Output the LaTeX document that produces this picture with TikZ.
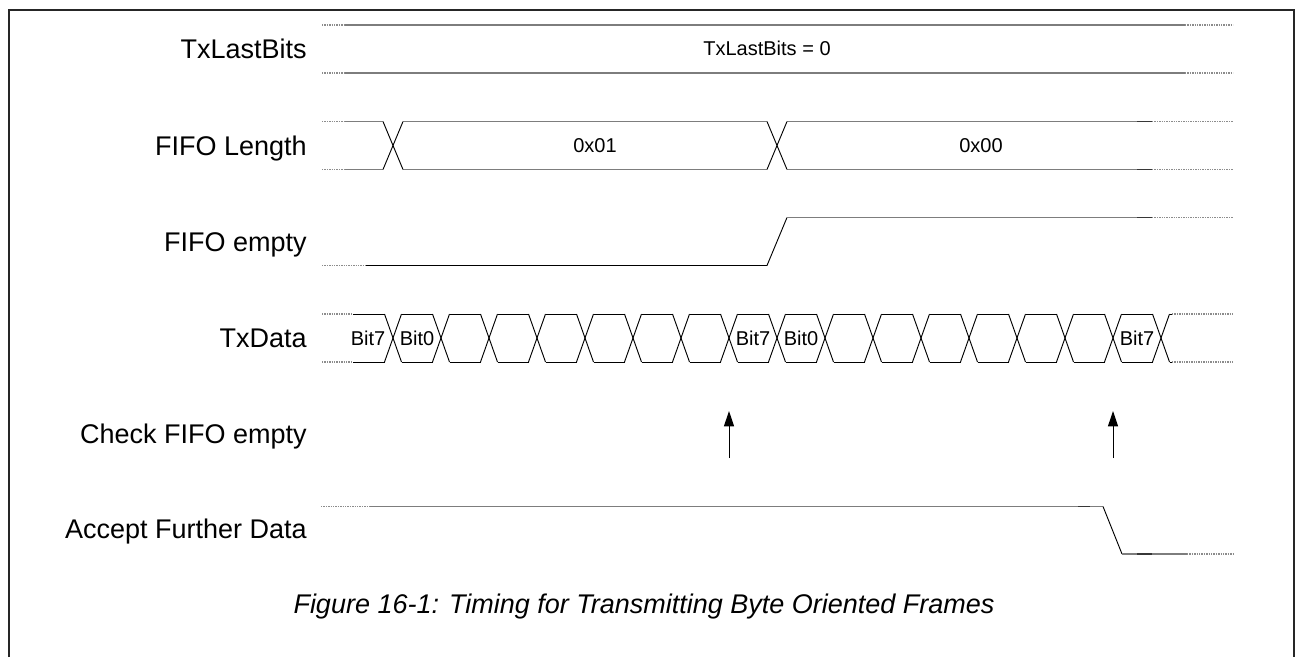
\documentclass[tikz,border=0pt]{standalone}
\usepackage{fontspec}
\setmainfont{Liberation Sans}
\usetikzlibrary{arrows.meta}
\definecolor{siggray}{RGB}{125,125,125}
\definecolor{dotgray}{RGB}{140,140,140}
\definecolor{markgray}{RGB}{55,55,55}
\begin{document}
\begin{tikzpicture}[x=0.75pt,y=-0.75pt,
  sig/.style={siggray,line width=1.1pt},
  wire/.style={black,line width=0.7pt},
  dotsig/.style={dotgray,line width=0.9pt,dash pattern=on 1pt off 0.8pt},
  darkseg/.style={markgray,line width=1.3pt},
  lbl/.style={anchor=base east,inner sep=0pt,font=\fontsize{20.25pt}{24pt}\selectfont},
  val/.style={anchor=base,inner sep=0pt,font=\fontsize{15pt}{18pt}\selectfont},
  chk/.style={-{Triangle[length=11.5pt,width=7.5pt]},black,line width=0.75pt}
]
\useasboundingbox (0,0) rectangle (1296,657);
\draw[line width=1.5pt,black!85] (8.5,657) -- (8.5,9.5) -- (1294,9.5) -- (1294,657);

% labels
\node[lbl] (l1) at (307,58.5) {TxLastBits};
\node[lbl] (l2) at (307,155) {FIFO Length};
\node[lbl] (l3) at (307,251) {FIFO empty};
\node[lbl] (l4) at (307,347) {TxData};
\node[lbl] (l5) at (307,443) {Check FIFO empty};
\node[lbl] (l6) at (307,538.5) {Accept Further Data};

% TxLastBits
\foreach \y in {25,73}{
  \draw[dotsig] (322,\y)--(345,\y);
  \draw[sig] (345,\y)--(1185,\y);
  \draw[dotsig] (1185,\y)--(1233,\y);
}
\node[val] (v1) at (767,55) {TxLastBits = 0};

% FIFO Length
\foreach \y in {121.5,169.5}{
  \draw[dotsig] (322,\y)--(345,\y);
  \draw[sig] (345,\y)--(383,\y);
  \draw[sig] (403,\y)--(767,\y);
  \draw[sig] (787,\y)--(1137,\y);
  \draw[darkseg] (1137,\y)--(1152,\y);
  \draw[dotsig] (1152,\y)--(1233,\y);
}
\foreach \c in {393,777}{
  \draw[wire] (\c-10,121.5)--(\c+10,169.5);
  \draw[wire] (\c-10,169.5)--(\c+10,121.5);
}
\node[val] (v2) at (595,152.5) {0x01};
\node[val] (v3) at (981,152.5) {0x00};

% FIFO empty
\draw[dotsig] (322,265.5)--(366,265.5);
\draw[wire] (366,265.5)--(767,265.5)--(787,217.5);
\draw[sig] (787,217.5)--(1137,217.5);
\draw[darkseg] (1137,217.5)--(1152,217.5);
\draw[dotsig] (1152,217.5)--(1233,217.5);

% TxData
\foreach \y in {314,362}{
  \draw[dotsig] (322,\y)--(353,\y);
  \draw[wire] (353,\y)--(384.5,\y);
  \draw[wire] (1169.5,\y)--(1172,\y);
  \draw[dotsig] (1172,\y)--(1234,\y);
}
\foreach \i in {0,...,16}{
  \pgfmathsetmacro\c{393+48*\i}
  \draw[wire] (\c-8.5,314)--(\c+8.5,362);
  \draw[wire] (\c-8.5,362)--(\c+8.5,314);
}
\foreach \i in {0,...,15}{
  \pgfmathsetmacro\c{393+48*\i}
  \draw[wire] (\c+8.5,314)--(\c+39.5,314);
  \draw[wire] (\c+8.5,362)--(\c+39.5,362);
}
\node[val] (b1) at (368,345) {Bit7};
\node[val] (b2) at (417,345) {Bit0};
\node[val] (b3) at (753,345) {Bit7};
\node[val] (b4) at (801,345) {Bit0};
\node[val] (b5) at (1137,345) {Bit7};

% Check FIFO empty arrows
\coordinate (a1s) at (729,458);
\coordinate (a1e) at (729,411);
\coordinate (a2s) at (1113,458);
\coordinate (a2e) at (1113,411);
\draw[chk] (a1s)--(a1e);
\draw[chk] (a2s)--(a2e);

% Accept Further Data
\draw[dotsig] (321,506.5)--(370,506.5);
\draw[sig] (370,506.5)--(1103,506.5);
\draw[darkseg] (1078,506.5)--(1090,506.5);
\draw[wire] (1103,506.5)--(1122,554);
\draw[sig] (1122,554)--(1187,554);
\draw[darkseg] (1137,554)--(1152,554);
\draw[dotsig] (1187,554)--(1234,554);

% caption
\node[anchor=base,inner sep=0pt,font=\fontsize{20.25pt}{24pt}\selectfont\itshape] (cap) at (644,613.5) {Figure 16-1: Timing for Transmitting Byte Oriented Frames};
\end{tikzpicture}
\end{document}
